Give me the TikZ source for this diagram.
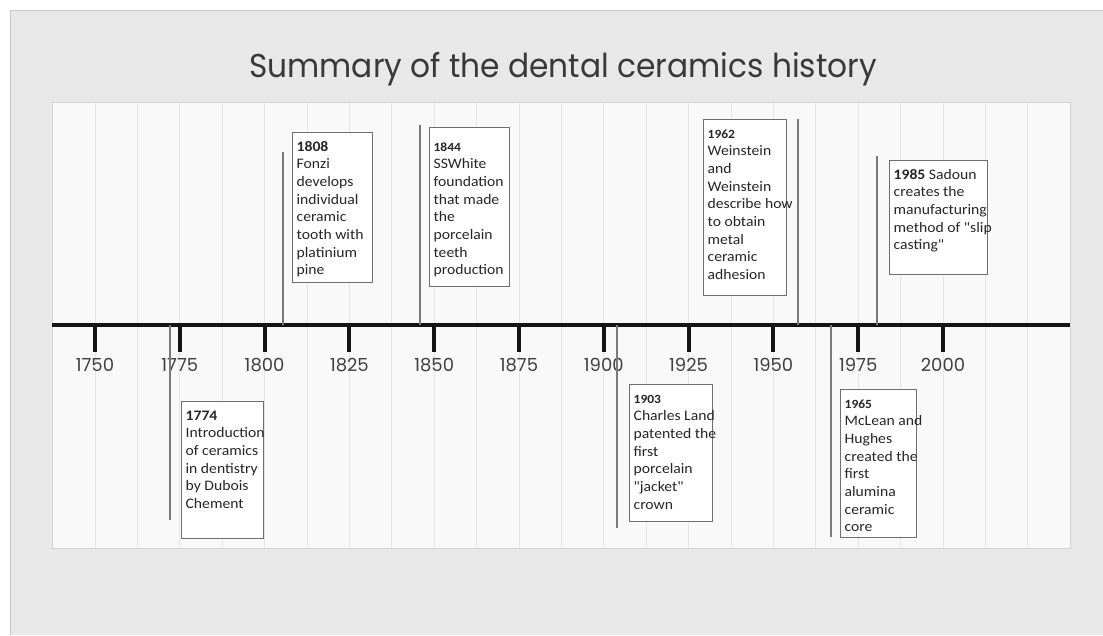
\documentclass[tikz,border=0pt]{standalone}
\usepackage{fontspec}
\setmainfont{Carlito}[FakeStretch=1.08, Ligatures=TeXOff]
\newfontfamily\gothic{Poppins}
\usepackage{xcolor}
\usepackage{tikz}
\usetikzlibrary{positioning}

\definecolor{slidebg}{HTML}{E8E8E8}
\definecolor{slideedge}{HTML}{C8C8C8}
\definecolor{panelbg}{HTML}{F9F9F9}
\definecolor{paneledge}{HTML}{D3D3D3}
\definecolor{gridgray}{HTML}{E6E6E6}
\definecolor{axisblack}{HTML}{141414}
\definecolor{stemgray}{HTML}{7A7A7A}
\definecolor{boxline}{HTML}{6E6E6E}
\definecolor{evtext}{HTML}{262626}
\definecolor{titlegray}{HTML}{383838}
\definecolor{yeargray}{HTML}{404040}

% box body: [top skip] width and height of the drawn box, then the lines
\newcommand{\evbody}[4][0pt]{\parbox[t][\dimexpr#3pt-13.3pt\relax][t]{\dimexpr#2pt-9.3pt\relax}{%
  \vspace*{#1}\begin{tabular}[t]{@{}l@{}}#4\end{tabular}}}
\newcommand{\smyear}[1]{{\fontsize{12.5}{17.7}\selectfont\textbf{#1}}}

\tikzset{
  evbox/.style={draw=boxline, fill=white, line width=1.3pt, anchor=north west,
    inner xsep=4pt, inner ysep=6pt, text=evtext,
    font=\fontsize{14.5}{17.7}\selectfont},
  evline/.style={draw=stemgray, line width=1.8pt},
  yearlbl/.style={anchor=base, text=yeargray, inner sep=0pt,
    font=\gothic\fontsize{18}{20}\selectfont},
  gridline/.style={draw=gridgray, line width=0.9pt},
}

\begin{document}
\begin{tikzpicture}[x=1pt, y=-1pt]
  \useasboundingbox (0,0) rectangle (1103,635);
  % slide
  \fill[white] (0,0) rectangle (1103,635);
  \fill[slidebg] (10,10) rectangle (1103,635);
  \draw[slideedge, line width=1pt] (10,635) -- (10,10) -- (1103,10);
  % title
  \node[anchor=base, inner sep=0pt, text=titlegray, font=\gothic\fontsize{33}{36}\selectfont]
    (title) at (563,77) {\scalebox{0.947}[1]{Summary of the dental ceramics history}};
  % plot area with its grid
  \draw[fill=panelbg, draw=paneledge, line width=1pt] (52,102) rectangle (1070,548);
  \foreach \k in {1,...,23}
    \draw[gridline] (52.6+42.4*\k,103) -- (52.6+42.4*\k,547);
  % axis, ticks and years
  \coordinate (axl) at (52,325);
  \coordinate (axr) at (1070,325);
  \draw[axisblack, line width=4pt] (axl) -- (axr);
  \foreach \yr [count=\i from 0] in {1750,1775,...,2000} {
    \coordinate (t\yr) at (95+84.8*\i,325);
    \draw[axisblack, line width=4pt] (t\yr) -- ++(0,27);
    \node[yearlbl] (y\yr) at (95+84.8*\i,371) {\yr};
  }
  % stems
  \foreach \ev/\sx/\ey in {1774/170/520, 1808/283/152, 1844/420/125, 1903/617/528,
                           1962/798/119, 1965/831/537, 1985/877/156} {
    \coordinate (s\ev) at (\sx,325);
    \coordinate (e\ev) at (\sx,\ey);
    \draw[evline] (s\ev) -- (e\ev);
  }
  % events above the axis
  \node[evbox] (b1808) at (292,132) {\evbody{81}{151}{\textbf{1808}\\Fonzi\\develops\\individual\\ceramic\\tooth with\\platinium\\pine}};
  \node[evbox] (b1844) at (429,127) {\evbody[5pt]{81}{160}{\smyear{1844}\\SSWhite\\foundation\\that made\\the\\porcelain\\teeth\\production}};
  \node[evbox] (b1962) at (703,119) {\evbody{84}{177}{\smyear{1962}\\Weinstein\\and\\Weinstein\\describe how\\to obtain\\metal\\ceramic\\adhesion}};
  \node[evbox] (b1985) at (889,160) {\evbody{99}{115}{\textbf{1985} Sadoun\\creates the\\manufacturing\\method of "slip\\casting"}};
  % events below the axis
  \node[evbox] (b1774) at (181,401) {\evbody{83}{138}{\textbf{1774}\\Introduction\\of ceramics\\in dentistry\\by Dubois\\Chement}};
  \node[evbox] (b1903) at (629,384) {\evbody{84}{138}{\smyear{1903}\\Charles Land\\patented the\\first\\porcelain\\"jacket"\\crown}};
  \node[evbox] (b1965) at (840,389) {\evbody{77}{149}{\smyear{1965}\\McLean and\\Hughes\\created the\\first\\alumina\\ceramic\\core}};
\end{tikzpicture}
\end{document}
